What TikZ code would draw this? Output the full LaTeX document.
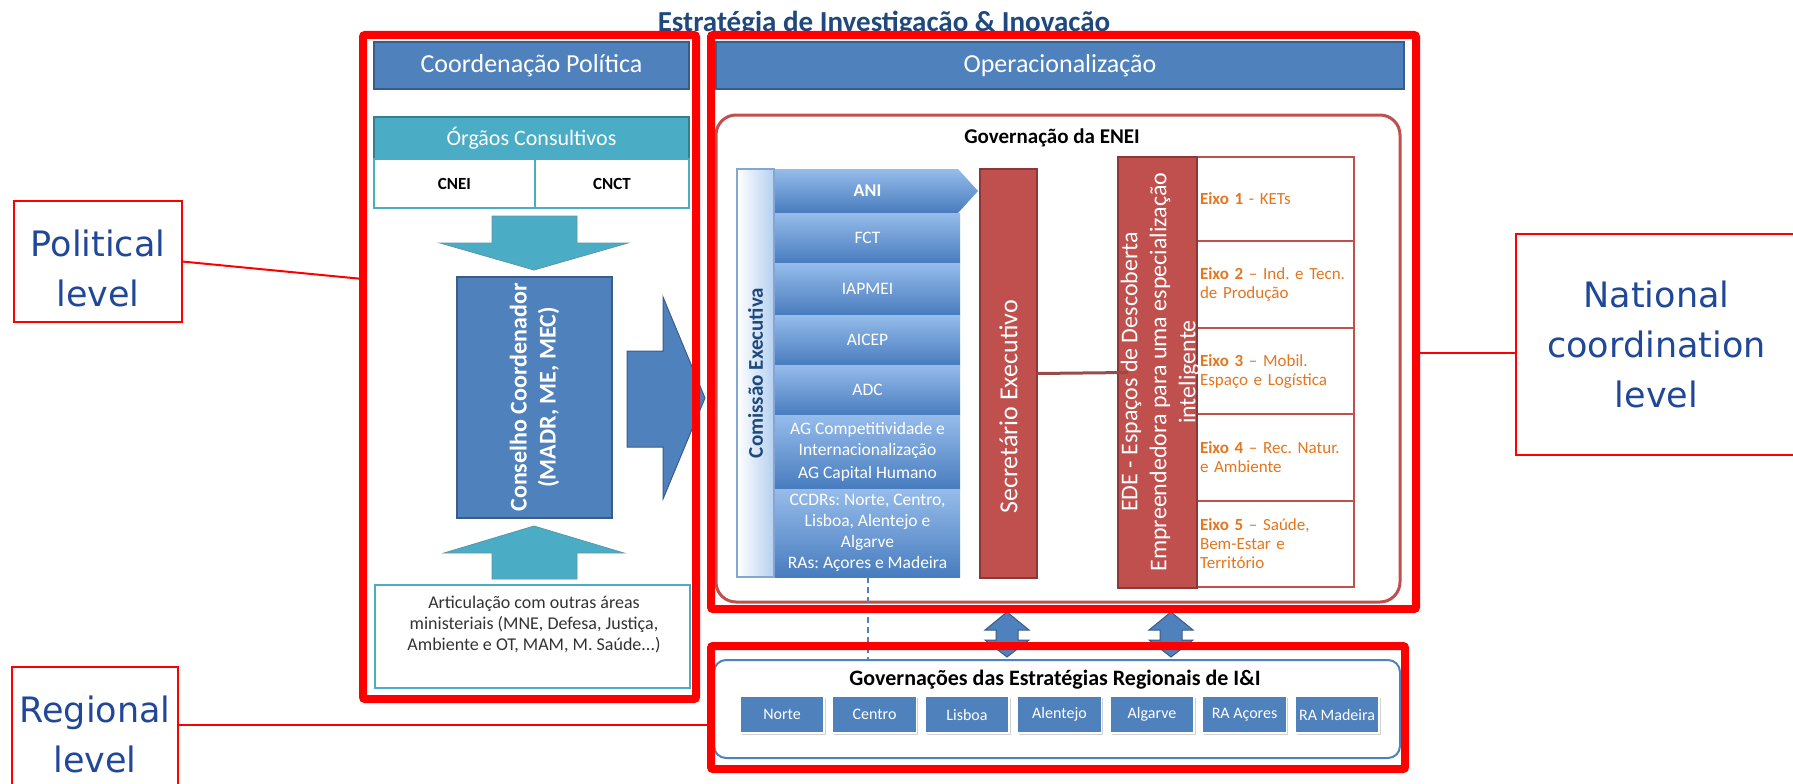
\documentclass[tikz,border=0pt]{standalone}
\usepackage{fontspec}
\setmainfont{Carlito}
\newfontfamily\lvlfont{DejaVu Sans}
\usetikzlibrary{shadows}
\frenchspacing

\definecolor{accblue}{RGB}{79,129,189}
\definecolor{accdark}{RGB}{56,93,138}
\definecolor{tealc}{RGB}{75,172,198}
\definecolor{tealdark}{RGB}{53,125,145}
\definecolor{redc}{RGB}{192,80,77}
\definecolor{reddark}{RGB}{140,56,54}
\definecolor{navy}{RGB}{31,73,125}
\definecolor{lvlblue}{RGB}{33,72,152}
\definecolor{eixoc}{RGB}{228,118,30}
\definecolor{agtop}{RGB}{150,188,235}
\definecolor{agbot}{RGB}{72,124,190}

\newcommand{\fsz}[2]{\fontsize{#1}{#2}\selectfont}

\tikzset{
  box/.style={anchor=north west, inner sep=0pt, outer sep=0pt},
  hdr/.style={box, fill=accblue, draw=accdark, line width=1.5pt, text=white, font=\fsz{26}{31}},
  cell/.style={box, draw=tealc, line width=1.5pt, fill=white, font=\bfseries\fsz{17}{20}},
  tealarrow/.style={fill=tealc, draw=tealdark!80, line width=0.8pt},
  bluearrow/.style={fill=accblue, draw=accdark, line width=1pt},
  agency/.style={box, minimum width=185, top color=agtop, bottom color=agbot, text=white, font=\fsz{17.5}{21}, align=center},
  redblock/.style={box, fill=redc, draw=reddark, line width=1.2pt},
  eixo/.style={box, draw=redc, line width=2.5pt, fill=white, text=eixoc, font=\fsz{17}{19}, text width=151, inner xsep=3pt, align=left},
  region/.style={box, minimum width=84, minimum height=37, fill=accblue, draw=white, line width=1.5pt, text=white, font=\fsz{16}{19},
    drop shadow={shadow xshift=1.5pt, shadow yshift=-1.5pt, opacity=.35}},
  frame/.style={box, draw=red, line width=8pt, rounded corners=2pt},
  lvl/.style={box, draw=red, line width=2pt, fill=white},
  lvltxt/.style={text=lvlblue, font=\lvlfont\fsz{35}{50}, align=center},
  lvlline/.style={red, line width=2pt}
}

\begin{document}
\begin{tikzpicture}[x=1pt, y=-1pt]
\useasboundingbox (0,0) rectangle (1793,784);
\clip (0,0) rectangle (1793,784);
\fill[white] (0,0) rectangle (1793,784);

\node[font=\bfseries\fsz{29}{34}, text=navy, anchor=base] (title) at (884,31.5) {Estratégia de Investigação \& Inovação};

% political column
\node[hdr, minimum width=315, minimum height=47] (coord) at (374,42) {Coordenação Política};
\node[box, fill=tealc, draw=tealdark, line width=1.2pt, minimum width=315, minimum height=42, text=white, font=\fsz{22}{26}] (orgaos) at (374,117) {Órgãos Consultivos};
\node[cell, minimum width=161, minimum height=49] (cnei) at (374,159) {CNEI};
\node[cell, minimum width=154, minimum height=49] (cnct) at (535,159) {CNCT};

\path[tealarrow] (492,216) -- (577,216) -- (577,243) -- (628,243) -- (534,270) -- (440,243) -- (492,243) -- cycle;
\node[fill=accblue, draw=accdark, line width=1.5pt, rotate=90, minimum width=241, minimum height=155, inner sep=0pt,
      text=white, font=\bfseries\fsz{24}{29}, align=center] (conselho) at (534.5,397.5) {Conselho Coordenador\\(MADR, ME, MEC)};
\path[tealarrow] (534,526) -- (624,553) -- (577,553) -- (577,579) -- (492,579) -- (492,553) -- (444,553) -- cycle;

\node[box, draw=tealc, line width=2pt, fill=white, minimum width=315, minimum height=103] (artic) at (375,585) {};
\node[align=center, font=\fsz{18}{21}, text=black!80] (artictxt) at (534,624)
  {Articulação com outras áreas\\ministeriais (MNE, Defesa, Justiça,\\Ambiente e OT, MAM, M. Saúde...)};

\path[bluearrow] (627,351) -- (663,351) -- (663,297) -- (705,398) -- (663,499) -- (663,447) -- (627,447) -- cycle;

% national column
\node[hdr, minimum width=688, minimum height=47] (oper) at (716,42) {Operacionalização};
\node[box, draw=redc, line width=3pt, rounded corners=20pt, minimum width=684, minimum height=487] (govbox) at (716,115) {};
\node[font=\bfseries\fsz{21}{25}, anchor=base] (govtitle) at (1052,143) {Governação da ENEI};

\node[box, left color=white, right color=agtop!70, draw=accblue!70, line width=1.5pt, minimum width=37, minimum height=408] (comissao) at (737,169) {};
\node[rotate=90, text=navy, font=\bfseries\fsz{21}{25}] (comissaotxt) at (comissao.center) {Comissão Executiva};

\path[top color=agtop, bottom color=agbot] (775,169) -- (958,169) -- (978,191) -- (958,213) -- (775,213) -- cycle;
\node[text=white, font=\bfseries\fsz{18}{21}] (ani) at (867.5,191) {ANI};
\node[agency, minimum height=50] (fct) at (775,213) {FCT};
\node[agency, minimum height=52] (iapmei) at (775,263) {IAPMEI};
\node[agency, minimum height=50] (aicep) at (775,315) {AICEP};
\node[agency, minimum height=50] (adc) at (775,365) {ADC};
\node[agency, minimum height=74] (ag) at (775,415) {AG Competitividade e\\Internacionalização\\[2pt]AG Capital Humano};
\node[agency, minimum height=88] (ccdr) at (775,489) {CCDRs: Norte, Centro,\\Lisboa, Alentejo e\\Algarve\\RAs: Açores e Madeira};

\node[redblock, minimum width=57, minimum height=409] (secr) at (980,169) {};
\node[rotate=90, text=white, font=\fsz{26}{31}] (secrtxt) at (1008.5,407) {Secretário Executivo};

\node[eixo, minimum height=84] (e1) at (1197,157) {\textbf{Eixo 1} - KETs};
\node[eixo, minimum height=87] (e2) at (1197,241) {\textbf{Eixo 2} – Ind. e Tecn.\\de Produção};
\node[eixo, minimum height=86] (e3) at (1197,328) {\textbf{Eixo 3} – Mobil.\\Espaço e Logística};
\node[eixo, minimum height=87] (e4) at (1197,414) {\textbf{Eixo 4} – Rec. Natur.\\e Ambiente};
\node[eixo, minimum height=86] (e5) at (1197,501) {\textbf{Eixo 5} – Saúde,\\Bem-Estar e\\Território};

\node[redblock, minimum width=79, minimum height=431] (ede) at (1118,157) {};
\draw[reddark!90, line width=3pt] (secr.east) -- ([xshift=10pt]ede.west);
\node[rotate=90, text=white, align=center, font=\fsz{24}{29}] (edetxt) at (1160,372)
  {EDE - Espaços de Descoberta\\Empreendedora para uma especialização\\inteligente};

% regional level
\node[box, draw=accblue, line width=2pt, rounded corners=12pt, fill=white, minimum width=686, minimum height=98] (regbox) at (714,660) {};
\draw[accblue, line width=2pt, dash pattern=on 6pt off 4pt] (ccdr.south) -- (ccdr.south |- regbox.north);
\node[font=\bfseries\fsz{22}{26}, anchor=base] (regtitle) at (1055,685) {Governações das Estratégias Regionais de I\&I};
\foreach \nm/\lab [count=\i from 0] in {norte/Norte, centro/Centro, lisboa/Lisboa, alentejo/Alentejo,
    algarve/Algarve, acores/RA Açores, madeira/RA Madeira}
  \node[region] (\nm) at ({740+92.5*\i},696) {\lab};

\foreach \cx in {1007,1171}
  \path[bluearrow] (\cx,612) -- ({\cx+22},630) -- ({\cx+11},630) -- ({\cx+11},640) -- ({\cx+22},640) -- (\cx,657)
    -- ({\cx-22},640) -- ({\cx-11},640) -- ({\cx-11},630) -- ({\cx-22},630) -- cycle;

% red level frames
\node[frame, minimum width=333, minimum height=664] (leftframe) at (363,35) {};
\node[frame, minimum width=705, minimum height=574] (rightframe) at (711,35) {};
\node[frame, minimum width=694, minimum height=123] (botframe) at (711,646) {};

\node[lvl, minimum width=168, minimum height=121] (pol) at (14,201) {};
\node[lvltxt] (poltxt) at (98,268.5) {Political\\level};
\node[lvl, minimum width=166, minimum height=135] (reg) at (12,667) {};
\node[lvltxt] (regtxt) at (reg.center) {Regional\\level};
\node[lvl, minimum width=281, minimum height=221] (natl) at (1516,234) {};
\node[lvltxt] (natltxt) at (natl.center) {National\\coordination\\level};

\coordinate (polend) at (363,279);
\coordinate (regend) at (711,725);
\coordinate (natend) at (1416,353);
\draw[lvlline] (pol.east) -- (polend);
\draw[lvlline] (regend -| reg.east) -- (regend);
\draw[lvlline] (natend) -- (natend -| natl.west);
\end{tikzpicture}
\end{document}
